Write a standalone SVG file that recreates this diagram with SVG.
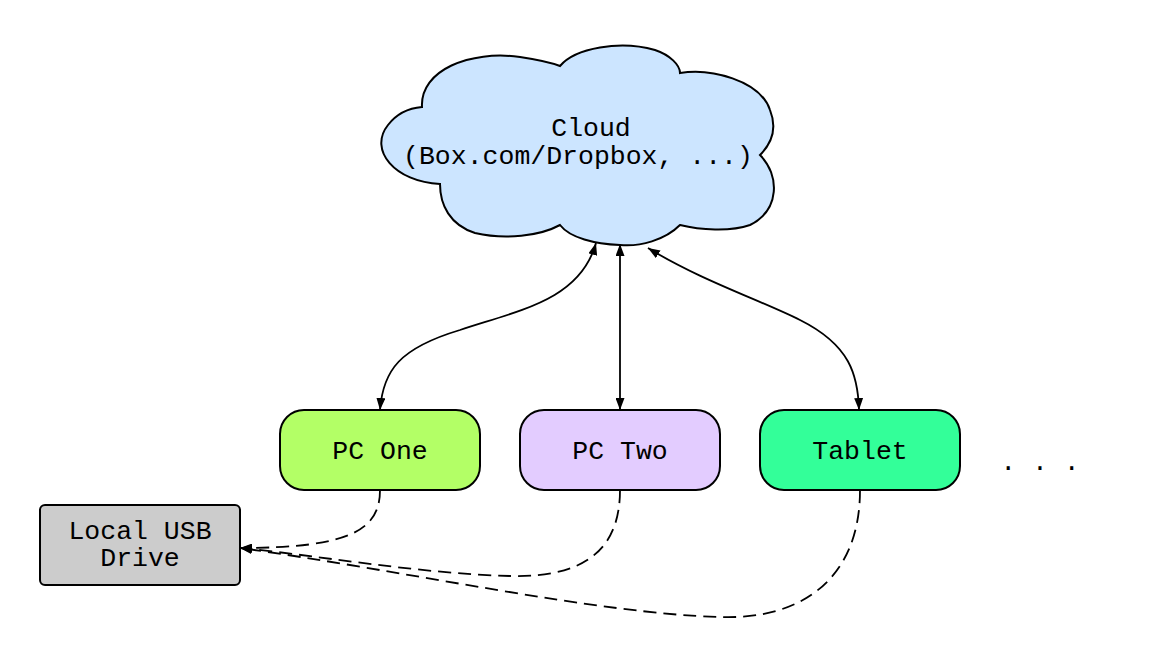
<svg xmlns="http://www.w3.org/2000/svg" width="1160" height="667" viewBox="0 0 1160 667">
<style>
text{font-family:"Liberation Mono","DejaVu Sans Mono",monospace;font-size:26.5px;fill:#000;text-anchor:middle}
.n{stroke:#000;stroke-width:2}
.e{fill:none;stroke:#000;stroke-width:1.8}
.d{stroke-dasharray:13,7}
</style>
<defs>
<marker id="ah" viewBox="0 0 12 9" refX="12" refY="4.5" markerWidth="12" markerHeight="9" markerUnits="userSpaceOnUse" orient="auto-start-reverse">
<path d="M0,0 L12,4.5 L0,9 z" fill="#000"/>
</marker>
</defs>
<rect width="1160" height="667" fill="#fff"/>
<g id="connectors">
<path class="e" d="M596,243 C580,300 520,310 460,330 C400,348 383,370 380,410" marker-start="url(#ah)" marker-end="url(#ah)"/>
<path class="e" d="M620,244 L620,410" marker-start="url(#ah)" marker-end="url(#ah)"/>
<path class="e" d="M648,248 C700,280 760,300 800,320 C850,345 858,375 859,410" marker-start="url(#ah)" marker-end="url(#ah)"/>
<path class="e d" d="M380,490 C380,530 350,548 240,548" marker-end="url(#ah)"/>
<path class="e d" d="M620,490 C620,545 590,578 510,576 C420,574 300,553 240,548" marker-end="url(#ah)"/>
<path class="e d" d="M860,490 C860,580 800,620 720,617 C600,614 400,570 240,548" marker-end="url(#ah)"/>
</g>
<g id="cloud">
<path class="n" fill="#cce5ff" d="M440,184 C395,182 368,150 388,125 C398,112 410,108 422,107 C420,70 470,50 520,57 C540,60 552,63 560,66 C575,48 620,40 655,50 C670,55 680,65 680,73 C710,68 760,80 770,110 C778,130 770,145 760,155 C780,175 780,210 750,225 C730,232 700,230 680,225 C665,240 640,247 620,245 C595,244 570,238 560,225 C540,236 505,240 475,233 C450,225 440,205 440,184 Z"/>
<text x="591" y="136">Cloud</text>
<text x="578" y="164">(Box.com/Dropbox, ...)</text>
</g>
<g id="pc-one">
<rect class="n" x="280" y="410" width="200" height="80" rx="24" fill="#b3ff66"/>
<text x="380" y="459">PC One</text>
</g>
<g id="pc-two">
<rect class="n" x="520" y="410" width="200" height="80" rx="24" fill="#e3ccff"/>
<text x="620" y="459">PC Two</text>
</g>
<g id="tablet">
<rect class="n" x="760" y="410" width="200" height="80" rx="24" fill="#33ff99"/>
<text x="860" y="459">Tablet</text>
</g>
<g id="more">
<text x="1040" y="470">. . .</text>
</g>
<g id="usb">
<rect class="n" x="40" y="505" width="200" height="80" rx="5" fill="#cccccc"/>
<text x="140" y="539">Local USB</text>
<text x="140" y="566">Drive</text>
</g>
</svg>
